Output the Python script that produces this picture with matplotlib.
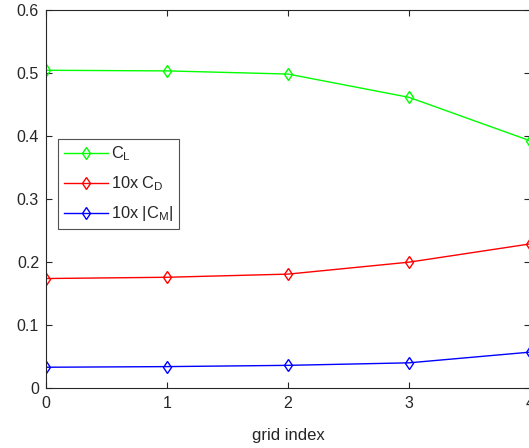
import matplotlib
matplotlib.use('Agg')
import matplotlib.pyplot as plt

# 데이터
grid_index = [0, 1, 2, 3, 4]
cl = [0.505, 0.504, 0.499, 0.462, 0.393]
cd_x10 = [0.174, 0.176, 0.181, 0.200, 0.229]
cm_x10 = [0.033, 0.034, 0.036, 0.040, 0.057]

plt.rcParams['font.family'] = ['Liberation Sans', 'DejaVu Sans']
plt.rcParams['mathtext.fontset'] = 'custom'
plt.rcParams['mathtext.rm'] = 'Liberation Sans'

W, H = 529, 448
fig = plt.figure(figsize=(W / 100, H / 100), dpi=100)
ax = fig.add_axes([46 / W, (H - 388) / H, (530 - 46) / W, (388 - 10.5) / H])

dark = '#262626'
kw = dict(marker='d', markersize=6.5, markerfacecolor='none', linewidth=1.0, markeredgewidth=1.0)
ax.plot(grid_index, cl, color='#00ff00', label=r'$\mathregular{C_L}$', **kw)
ax.plot(grid_index, cd_x10, color='#ff0000', label=r'10x $\mathregular{C_D}$', **kw)
ax.plot(grid_index, cm_x10, color='#0000ff', label=r'10x $\mathregular{|C_M|}$', **kw)

ax.set_xlim(0, 4)
ax.set_ylim(0, 0.6)
ax.set_xticks([0, 1, 2, 3, 4])
ax.set_yticks([0, 0.1, 0.2, 0.3, 0.4, 0.5, 0.6])
ax.set_yticklabels(['0', '0.1', '0.2', '0.3', '0.4', '0.5', '0.6'])
ax.tick_params(direction='in', length=4.5, width=0.8, colors=dark, labelsize=11.5,
               top=True, right=True, pad=5)
ax.tick_params(axis='x', pad=6)
for s in ax.spines.values():
    s.set_color(dark)
    s.set_linewidth(0.8)

ax.set_xlabel('grid index', fontsize=12, color=dark, labelpad=12)

leg = ax.legend(loc='upper left', bbox_to_anchor=(58 / W, 1 - 139 / H),
                bbox_transform=fig.transFigure, fontsize=11.8, frameon=True,
                fancybox=False, edgecolor=dark, handlelength=2.7, handletextpad=0.2,
                borderpad=0.35, labelspacing=0.68, borderaxespad=0)
leg.get_frame().set_linewidth(0.8)
for t in leg.get_texts():
    t.set_color(dark)

fig.savefig('out.png', dpi=100)
